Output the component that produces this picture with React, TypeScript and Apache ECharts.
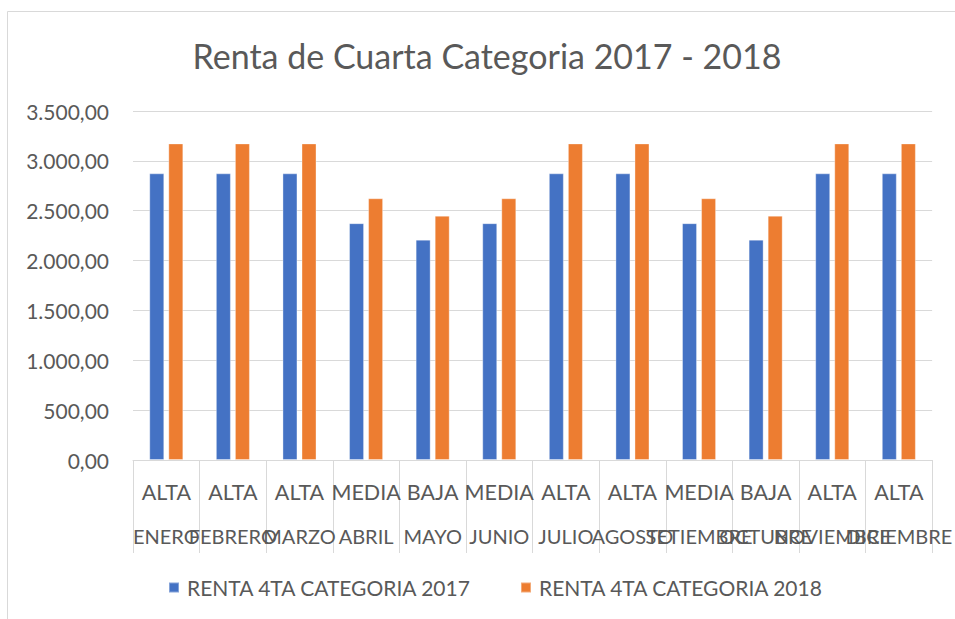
import React, { useEffect, useRef } from "react";
import * as echarts from "echarts";

const months = ["ENERO", "FEBRERO", "MARZO", "ABRIL", "MAYO", "JUNIO", "JULIO", "AGOSTO", "SETIEMBRE", "OCTUBRE", "NOVIEMBRE", "DICIEMBRE"];
const levels = ["ALTA", "ALTA", "ALTA", "MEDIA", "BAJA", "MEDIA", "ALTA", "ALTA", "MEDIA", "BAJA", "ALTA", "ALTA"];
const renta2017 = [2875, 2875, 2875, 2375, 2210, 2375, 2875, 2875, 2375, 2210, 2875, 2875];
const renta2018 = [3175, 3175, 3175, 2625, 2450, 2625, 3175, 3175, 2625, 2450, 3175, 3175];
const seriesNames = ["RENTA 4TA CATEGORIA 2017", "RENTA 4TA CATEGORIA 2018"];
const titleText = "Renta de Cuarta Categoria 2017 - 2018";

const FONT = "Lato, 'Open Sans', sans-serif";
const GREY = "#595959";
const LINE = "#d9d9d9";

function fmt(v: number): string {
  const s = Math.round(v).toString().replace(/\B(?=(\d{3})+(?!\d))/g, ".");
  return s + ",00";
}

export default function App() {
  const ref = useRef<HTMLDivElement>(null);
  useEffect(() => {
    if (!ref.current) return;
    const chart = echarts.init(ref.current, null, { renderer: "svg" });
    chart.setOption({
      animation: false,
      backgroundColor: "#ffffff",
      textStyle: { fontFamily: FONT },
      graphic: [
        {
          type: "rect",
          shape: { x: 7.5, y: 11.5, width: 1000, height: 1000 },
          style: { fill: "none", stroke: LINE, lineWidth: 1 },
          silent: true,
        },
        {
          type: "text",
          x: 487,
          y: 55,
          style: {
            text: titleText,
            fill: GREY,
            fontSize: 34,
            fontFamily: FONT,
            textAlign: "center",
            textVerticalAlign: "middle",
          },
        },
      ],
      legend: {
        left: 163,
        top: 572,
        itemWidth: 10,
        itemHeight: 10,
        itemGap: 48,
        icon: "rect",
        textStyle: { color: GREY, fontSize: 21, fontFamily: FONT, padding: [0, 0, 0, 3] },
        data: seriesNames,
      },
      grid: { left: 133, right: 16, top: 111, bottom: 159 },
      xAxis: [
        {
          type: "category",
          data: levels,
          position: "bottom",
          axisLine: { show: true, lineStyle: { color: LINE, width: 1 } },
          axisTick: { show: true, length: 93, interval: 0, lineStyle: { color: LINE, width: 1 } },
          axisLabel: { interval: 0, margin: 21, color: GREY, fontSize: 21.5, fontFamily: FONT, hideOverlap: false },
        },
        {
          type: "category",
          data: months,
          position: "bottom",
          axisLine: { show: false },
          axisTick: { show: false },
          axisLabel: { interval: 0, margin: 66, color: GREY, fontSize: 20, fontFamily: FONT, hideOverlap: false },
        },
      ],
      yAxis: {
        type: "value",
        min: 0,
        max: 3500,
        interval: 500,
        axisLine: { show: false },
        axisTick: { show: false },
        splitLine: { lineStyle: { color: LINE, width: 1 } },
        axisLabel: { color: GREY, fontSize: 21, fontFamily: FONT, margin: 24, formatter: (v: number) => fmt(v) },
      },
      series: [
        {
          name: seriesNames[0],
          type: "bar",
          data: renta2017,
          barWidth: 15,
          barGap: "27%",
          itemStyle: { color: "#4472C4", borderColor: "rgba(255,255,255,0.35)", borderWidth: 1 },
        },
        {
          name: seriesNames[1],
          type: "bar",
          data: renta2018,
          barWidth: 15,
          barGap: "27%",
          itemStyle: { color: "#ED7D31", borderColor: "rgba(255,255,255,0.35)", borderWidth: 1 },
        },
      ],
    });
    return () => chart.dispose();
  }, []);
  return <div ref={ref} style={{ position: "absolute", left: 0, top: 0, width: 955, height: 619 }} />;
}
